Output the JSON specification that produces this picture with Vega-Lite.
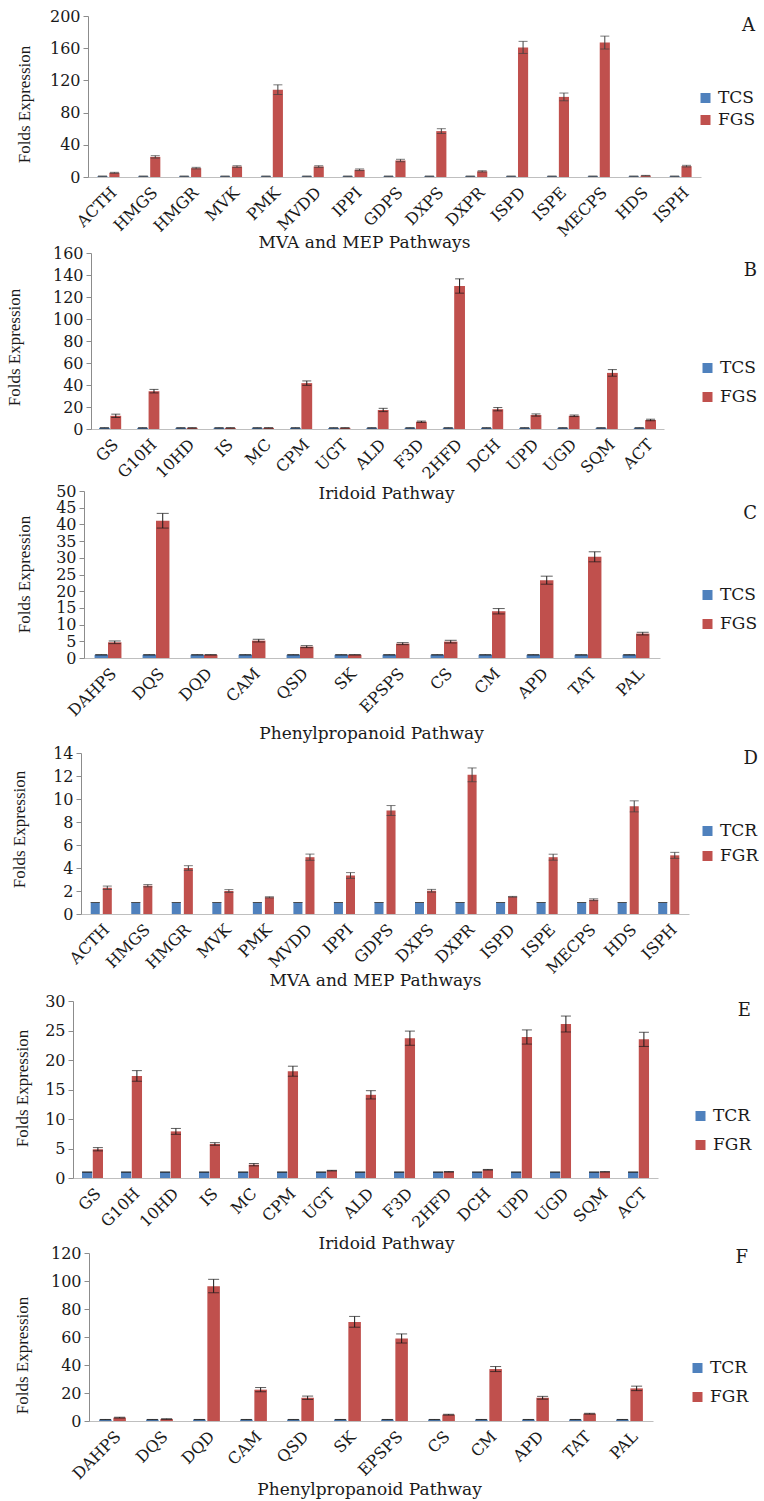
{
  "$schema": "https://vega.github.io/schema/vega-lite/v6.json",
  "background": "white",
  "padding": {"left": 5, "top": 8, "right": 0, "bottom": 5},
  "bounds": "flush",
  "align": "each",
  "spacing": 0,
  "datasets": {
    "a": [
      {"gene":"ACTH","grp":"TCS","v":1,"lo":0.9,"hi":1.1},{"gene":"ACTH","grp":"FGS","v":5.2,"lo":4.6,"hi":5.8},
      {"gene":"HMGS","grp":"TCS","v":1,"lo":0.9,"hi":1.1},{"gene":"HMGS","grp":"FGS","v":25,"lo":23.5,"hi":26.5},
      {"gene":"HMGR","grp":"TCS","v":1,"lo":0.9,"hi":1.1},{"gene":"HMGR","grp":"FGS","v":11,"lo":10,"hi":12},
      {"gene":"MVK","grp":"TCS","v":1,"lo":0.9,"hi":1.1},{"gene":"MVK","grp":"FGS","v":13,"lo":12,"hi":14},
      {"gene":"PMK","grp":"TCS","v":1,"lo":0.9,"hi":1.1},{"gene":"PMK","grp":"FGS","v":108.5,"lo":102.5,"hi":114.5},
      {"gene":"MVDD","grp":"TCS","v":1,"lo":0.9,"hi":1.1},{"gene":"MVDD","grp":"FGS","v":13,"lo":12,"hi":14},
      {"gene":"IPPI","grp":"TCS","v":1,"lo":0.9,"hi":1.1},{"gene":"IPPI","grp":"FGS","v":9,"lo":8,"hi":10},
      {"gene":"GDPS","grp":"TCS","v":1,"lo":0.9,"hi":1.1},{"gene":"GDPS","grp":"FGS","v":20.5,"lo":19,"hi":22},
      {"gene":"DXPS","grp":"TCS","v":1,"lo":0.9,"hi":1.1},{"gene":"DXPS","grp":"FGS","v":57,"lo":54,"hi":60},
      {"gene":"DXPR","grp":"TCS","v":1,"lo":0.9,"hi":1.1},{"gene":"DXPR","grp":"FGS","v":7,"lo":6.2,"hi":7.8},
      {"gene":"ISPD","grp":"TCS","v":1,"lo":0.9,"hi":1.1},{"gene":"ISPD","grp":"FGS","v":161,"lo":153.5,"hi":168.5},
      {"gene":"ISPE","grp":"TCS","v":1,"lo":0.9,"hi":1.1},{"gene":"ISPE","grp":"FGS","v":99.5,"lo":94.7,"hi":104.3},
      {"gene":"MECPS","grp":"TCS","v":1,"lo":0.9,"hi":1.1},{"gene":"MECPS","grp":"FGS","v":167,"lo":159,"hi":175},
      {"gene":"HDS","grp":"TCS","v":1,"lo":0.9,"hi":1.1},{"gene":"HDS","grp":"FGS","v":1.7,"lo":1.4,"hi":2.0},
      {"gene":"ISPH","grp":"TCS","v":1,"lo":0.9,"hi":1.1},{"gene":"ISPH","grp":"FGS","v":13.5,"lo":12.5,"hi":14.5}
    ],
    "b": [
      {"gene":"GS","grp":"TCS","v":1,"lo":0.9,"hi":1.1},{"gene":"GS","grp":"FGS","v":12,"lo":10.5,"hi":13.5},
      {"gene":"G10H","grp":"TCS","v":1,"lo":0.9,"hi":1.1},{"gene":"G10H","grp":"FGS","v":34.4,"lo":32.8,"hi":36},
      {"gene":"10HD","grp":"TCS","v":1,"lo":0.9,"hi":1.1},{"gene":"10HD","grp":"FGS","v":1,"lo":0.9,"hi":1.1},
      {"gene":"IS","grp":"TCS","v":1,"lo":0.9,"hi":1.1},{"gene":"IS","grp":"FGS","v":1,"lo":0.9,"hi":1.1},
      {"gene":"MC","grp":"TCS","v":1,"lo":0.9,"hi":1.1},{"gene":"MC","grp":"FGS","v":1,"lo":0.9,"hi":1.1},
      {"gene":"CPM","grp":"TCS","v":1,"lo":0.9,"hi":1.1},{"gene":"CPM","grp":"FGS","v":41.7,"lo":39.7,"hi":43.7},
      {"gene":"UGT","grp":"TCS","v":1,"lo":0.9,"hi":1.1},{"gene":"UGT","grp":"FGS","v":1,"lo":0.9,"hi":1.1},
      {"gene":"ALD","grp":"TCS","v":1,"lo":0.9,"hi":1.1},{"gene":"ALD","grp":"FGS","v":17.3,"lo":15.8,"hi":18.8},
      {"gene":"F3D","grp":"TCS","v":1,"lo":0.9,"hi":1.1},{"gene":"F3D","grp":"FGS","v":6.6,"lo":6,"hi":7.2},
      {"gene":"2HFD","grp":"TCS","v":1,"lo":0.9,"hi":1.1},{"gene":"2HFD","grp":"FGS","v":130,"lo":123.5,"hi":136.5},
      {"gene":"DCH","grp":"TCS","v":1,"lo":0.9,"hi":1.1},{"gene":"DCH","grp":"FGS","v":18,"lo":16.5,"hi":19.5},
      {"gene":"UPD","grp":"TCS","v":1,"lo":0.9,"hi":1.1},{"gene":"UPD","grp":"FGS","v":12.7,"lo":11.7,"hi":13.7},
      {"gene":"UGD","grp":"TCS","v":1,"lo":0.9,"hi":1.1},{"gene":"UGD","grp":"FGS","v":12,"lo":11.3,"hi":12.7},
      {"gene":"SQM","grp":"TCS","v":1,"lo":0.9,"hi":1.1},{"gene":"SQM","grp":"FGS","v":51,"lo":48,"hi":54},
      {"gene":"ACT","grp":"TCS","v":1,"lo":0.9,"hi":1.1},{"gene":"ACT","grp":"FGS","v":8.2,"lo":7.5,"hi":8.9}
    ],
    "c": [
      {"gene":"DAHPS","grp":"TCS","v":0.95,"lo":0.9,"hi":1.0},{"gene":"DAHPS","grp":"FGS","v":4.7,"lo":4.3,"hi":5.1},
      {"gene":"DQS","grp":"TCS","v":0.95,"lo":0.9,"hi":1.0},{"gene":"DQS","grp":"FGS","v":41.1,"lo":38.9,"hi":43.3},
      {"gene":"DQD","grp":"TCS","v":0.95,"lo":0.9,"hi":1.0},{"gene":"DQD","grp":"FGS","v":0.95,"lo":0.9,"hi":1.0},
      {"gene":"CAM","grp":"TCS","v":0.95,"lo":0.9,"hi":1.0},{"gene":"CAM","grp":"FGS","v":5.2,"lo":4.8,"hi":5.6},
      {"gene":"QSD","grp":"TCS","v":0.95,"lo":0.9,"hi":1.0},{"gene":"QSD","grp":"FGS","v":3.4,"lo":3.1,"hi":3.7},
      {"gene":"SK","grp":"TCS","v":0.95,"lo":0.9,"hi":1.0},{"gene":"SK","grp":"FGS","v":0.95,"lo":0.9,"hi":1.0},
      {"gene":"EPSPS","grp":"TCS","v":0.95,"lo":0.9,"hi":1.0},{"gene":"EPSPS","grp":"FGS","v":4.3,"lo":4.0,"hi":4.6},
      {"gene":"CS","grp":"TCS","v":0.95,"lo":0.9,"hi":1.0},{"gene":"CS","grp":"FGS","v":4.9,"lo":4.5,"hi":5.3},
      {"gene":"CM","grp":"TCS","v":0.95,"lo":0.9,"hi":1.0},{"gene":"CM","grp":"FGS","v":14,"lo":13.2,"hi":14.8},
      {"gene":"APD","grp":"TCS","v":0.95,"lo":0.9,"hi":1.0},{"gene":"APD","grp":"FGS","v":23.3,"lo":22.1,"hi":24.5},
      {"gene":"TAT","grp":"TCS","v":0.95,"lo":0.9,"hi":1.0},{"gene":"TAT","grp":"FGS","v":30.3,"lo":28.8,"hi":31.8},
      {"gene":"PAL","grp":"TCS","v":0.95,"lo":0.9,"hi":1.0},{"gene":"PAL","grp":"FGS","v":7.3,"lo":6.9,"hi":7.7}
    ],
    "d": [
      {"gene":"ACTH","grp":"TCR","v":1,"lo":1,"hi":1},{"gene":"ACTH","grp":"FGR","v":2.28,"lo":2.13,"hi":2.43},
      {"gene":"HMGS","grp":"TCR","v":1,"lo":1,"hi":1},{"gene":"HMGS","grp":"FGR","v":2.46,"lo":2.36,"hi":2.56},
      {"gene":"HMGR","grp":"TCR","v":1,"lo":1,"hi":1},{"gene":"HMGR","grp":"FGR","v":4.0,"lo":3.8,"hi":4.2},
      {"gene":"MVK","grp":"TCR","v":1,"lo":1,"hi":1},{"gene":"MVK","grp":"FGR","v":2.0,"lo":1.88,"hi":2.12},
      {"gene":"PMK","grp":"TCR","v":1,"lo":1,"hi":1},{"gene":"PMK","grp":"FGR","v":1.45,"lo":1.4,"hi":1.5},
      {"gene":"MVDD","grp":"TCR","v":1,"lo":1,"hi":1},{"gene":"MVDD","grp":"FGR","v":4.94,"lo":4.67,"hi":5.21},
      {"gene":"IPPI","grp":"TCR","v":1,"lo":1,"hi":1},{"gene":"IPPI","grp":"FGR","v":3.35,"lo":3.1,"hi":3.6},
      {"gene":"GDPS","grp":"TCR","v":1,"lo":1,"hi":1},{"gene":"GDPS","grp":"FGR","v":9.0,"lo":8.57,"hi":9.43},
      {"gene":"DXPS","grp":"TCR","v":1,"lo":1,"hi":1},{"gene":"DXPS","grp":"FGR","v":2.02,"lo":1.9,"hi":2.14},
      {"gene":"DXPR","grp":"TCR","v":1,"lo":1,"hi":1},{"gene":"DXPR","grp":"FGR","v":12.1,"lo":11.5,"hi":12.7},
      {"gene":"ISPD","grp":"TCR","v":1,"lo":1,"hi":1},{"gene":"ISPD","grp":"FGR","v":1.5,"lo":1.47,"hi":1.53},
      {"gene":"ISPE","grp":"TCR","v":1,"lo":1,"hi":1},{"gene":"ISPE","grp":"FGR","v":4.94,"lo":4.68,"hi":5.2},
      {"gene":"MECPS","grp":"TCR","v":1,"lo":1,"hi":1},{"gene":"MECPS","grp":"FGR","v":1.24,"lo":1.16,"hi":1.32},
      {"gene":"HDS","grp":"TCR","v":1,"lo":1,"hi":1},{"gene":"HDS","grp":"FGR","v":9.36,"lo":8.88,"hi":9.84},
      {"gene":"ISPH","grp":"TCR","v":1,"lo":1,"hi":1},{"gene":"ISPH","grp":"FGR","v":5.1,"lo":4.84,"hi":5.36}
    ],
    "e": [
      {"gene":"GS","grp":"TCR","v":1,"lo":1,"hi":1},{"gene":"GS","grp":"FGR","v":4.87,"lo":4.6,"hi":5.15},
      {"gene":"G10H","grp":"TCR","v":1,"lo":1,"hi":1},{"gene":"G10H","grp":"FGR","v":17.3,"lo":16.4,"hi":18.2},
      {"gene":"10HD","grp":"TCR","v":1,"lo":1,"hi":1},{"gene":"10HD","grp":"FGR","v":7.9,"lo":7.4,"hi":8.4},
      {"gene":"IS","grp":"TCR","v":1,"lo":1,"hi":1},{"gene":"IS","grp":"FGR","v":5.77,"lo":5.55,"hi":5.99},
      {"gene":"MC","grp":"TCR","v":1,"lo":1,"hi":1},{"gene":"MC","grp":"FGR","v":2.26,"lo":2.06,"hi":2.46},
      {"gene":"CPM","grp":"TCR","v":1,"lo":1,"hi":1},{"gene":"CPM","grp":"FGR","v":18.1,"lo":17.25,"hi":18.95},
      {"gene":"UGT","grp":"TCR","v":1,"lo":1,"hi":1},{"gene":"UGT","grp":"FGR","v":1.25,"lo":1.2,"hi":1.3},
      {"gene":"ALD","grp":"TCR","v":1,"lo":1,"hi":1},{"gene":"ALD","grp":"FGR","v":14.1,"lo":13.4,"hi":14.8},
      {"gene":"F3D","grp":"TCR","v":1,"lo":1,"hi":1},{"gene":"F3D","grp":"FGR","v":23.7,"lo":22.5,"hi":24.9},
      {"gene":"2HFD","grp":"TCR","v":1,"lo":1,"hi":1},{"gene":"2HFD","grp":"FGR","v":1.05,"lo":1.0,"hi":1.1},
      {"gene":"DCH","grp":"TCR","v":1,"lo":1,"hi":1},{"gene":"DCH","grp":"FGR","v":1.4,"lo":1.35,"hi":1.45},
      {"gene":"UPD","grp":"TCR","v":1,"lo":1,"hi":1},{"gene":"UPD","grp":"FGR","v":23.9,"lo":22.7,"hi":25.1},
      {"gene":"UGD","grp":"TCR","v":1,"lo":1,"hi":1},{"gene":"UGD","grp":"FGR","v":26.1,"lo":24.75,"hi":27.45},
      {"gene":"SQM","grp":"TCR","v":1,"lo":1,"hi":1},{"gene":"SQM","grp":"FGR","v":1.05,"lo":1.02,"hi":1.08},
      {"gene":"ACT","grp":"TCR","v":1,"lo":1,"hi":1},{"gene":"ACT","grp":"FGR","v":23.5,"lo":22.3,"hi":24.7}
    ],
    "f": [
      {"gene":"DAHPS","grp":"TCR","v":1,"lo":0.9,"hi":1.1},{"gene":"DAHPS","grp":"FGR","v":2.4,"lo":2.1,"hi":2.7},
      {"gene":"DQS","grp":"TCR","v":1,"lo":0.9,"hi":1.1},{"gene":"DQS","grp":"FGR","v":1.4,"lo":1.2,"hi":1.6},
      {"gene":"DQD","grp":"TCR","v":1,"lo":0.9,"hi":1.1},{"gene":"DQD","grp":"FGR","v":96.2,"lo":91.6,"hi":101.2},
      {"gene":"CAM","grp":"TCR","v":1,"lo":0.9,"hi":1.1},{"gene":"CAM","grp":"FGR","v":22.4,"lo":20.9,"hi":23.9},
      {"gene":"QSD","grp":"TCR","v":1,"lo":0.9,"hi":1.1},{"gene":"QSD","grp":"FGR","v":16.6,"lo":15.4,"hi":17.8},
      {"gene":"SK","grp":"TCR","v":1,"lo":0.9,"hi":1.1},{"gene":"SK","grp":"FGR","v":70.8,"lo":67,"hi":74.7},
      {"gene":"EPSPS","grp":"TCR","v":1,"lo":0.9,"hi":1.1},{"gene":"EPSPS","grp":"FGR","v":58.9,"lo":55.7,"hi":62.2},
      {"gene":"CS","grp":"TCR","v":1,"lo":0.9,"hi":1.1},{"gene":"CS","grp":"FGR","v":4.5,"lo":4.2,"hi":4.8},
      {"gene":"CM","grp":"TCR","v":1,"lo":0.9,"hi":1.1},{"gene":"CM","grp":"FGR","v":37.1,"lo":35.3,"hi":38.9},
      {"gene":"APD","grp":"TCR","v":1,"lo":0.9,"hi":1.1},{"gene":"APD","grp":"FGR","v":16.6,"lo":15.6,"hi":17.6},
      {"gene":"TAT","grp":"TCR","v":1,"lo":0.9,"hi":1.1},{"gene":"TAT","grp":"FGR","v":5.2,"lo":4.9,"hi":5.5},
      {"gene":"PAL","grp":"TCR","v":1,"lo":0.9,"hi":1.1},{"gene":"PAL","grp":"FGR","v":23.3,"lo":21.7,"hi":24.9}
    ]
  },
  "config": {
    "view": {"stroke": null},
    "axis": {"grid": false, "domainColor": "#8c8c8c", "tickColor": "#8c8c8c", "labelColor": "#1a1a1a", "titleColor": "#1a1a1a", "labelFont": "DejaVu Serif", "labelFontSize": 16, "titleFontWeight": "normal", "labelOverlap": false},
    "axisX": {"labelAngle": -45, "ticks": false, "labelPadding": 7, "labelFontSize": 16, "titleFont": "DejaVu Serif", "titleFontSize": 17, "titleBaseline": "middle", "titleAlign": "center", "domainColor": "#bfbfbf"},
    "axisY": {"tickSize": 5, "labelPadding": 3, "titleFont": "Liberation Serif", "titleFontSize": 17, "titleAngle": 270, "titleBaseline": "middle", "titleAlign": "center"},
    "legend": {"symbolType": "square", "symbolSize": 100, "symbolStrokeWidth": 0, "labelFont": "DejaVu Serif", "labelFontSize": 17, "labelColor": "#1a1a1a", "labelOffset": 4, "titleFont": "DejaVu Serif", "titleFontSize": 18, "titleFontWeight": "normal", "titleColor": "#1a1a1a", "titleAnchor": "end", "orient": "none"}
  },
  "resolve": {"scale": {"x": "independent", "y": "independent", "color": "independent", "xOffset": "independent"}, "axis": {"x": "independent", "y": "independent"}, "legend": {"color": "independent"}},
  "vconcat": [
    {
      "width": 628, "height": 161,
      "data": {"name": "a"},
      "encoding": {
        "x": {"field": "gene", "type": "nominal", "sort": null, "scale": {"range": [15, 628], "paddingInner": 0.46, "paddingOuter": 0.23}, "axis": {"title": "MVA and MEP Pathways", "titleX": 291, "titleY": 65, "labelOverlap": false}},
        "xOffset": {"field": "grp", "type": "nominal", "scale": {"domain": ["TCS", "FGS"], "paddingInner": 0.15}}
      },
      "layer": [
        {"mark": {"type": "bar"}, "encoding": {
          "y": {"field": "v", "type": "quantitative", "title": "Folds Expression", "scale": {"domain": [0, 200], "range": [161, 0], "nice": false}, "axis": {"values": [0, 40, 80, 120, 160, 200], "labelOverlap": false, "offset": -15, "titleX": -63.5, "titleY": 88}},
          "color": {"field": "grp", "type": "nominal", "scale": {"domain": ["TCS", "FGS"], "range": ["#4F81BD", "#C0504D"]}, "legend": {"title": "A", "labelFont": "DejaVu Serif", "legendX": 624, "legendY": 0.5, "titlePadding": 55, "rowPadding": 4}}}},
        {"mark": {"type": "rule", "color": "#404040"}, "encoding": {"y": {"field": "lo", "type": "quantitative", "title": "Folds Expression", "axis": {"values": [0, 40, 80, 120, 160, 200], "labelOverlap": false, "offset": -15, "titleX": -63.5, "titleY": 88}}, "y2": {"field": "hi"}}},
        {"mark": {"type": "tick", "color": "#404040", "thickness": 1, "size": 9}, "encoding": {"y": {"field": "lo", "type": "quantitative", "title": "Folds Expression", "axis": {"values": [0, 40, 80, 120, 160, 200], "labelOverlap": false, "offset": -15, "titleX": -63.5, "titleY": 88}}}},
        {"mark": {"type": "tick", "color": "#404040", "thickness": 1, "size": 9}, "encoding": {"y": {"field": "hi", "type": "quantitative", "title": "Folds Expression", "axis": {"values": [0, 40, 80, 120, 160, 200], "labelOverlap": false, "offset": -15, "titleX": -63.5, "titleY": 88}}}}
      ]
    },
    {
      "width": 591, "height": 252,
      "data": {"name": "b"},
      "encoding": {
        "x": {"field": "gene", "type": "nominal", "sort": null, "scale": {"range": [18, 591], "paddingInner": 0.42, "paddingOuter": 0.21}, "axis": {"title": "Iridoid Pathway", "titleX": 313, "titleY": 64, "labelOverlap": false}},
        "xOffset": {"field": "grp", "type": "nominal", "scale": {"domain": ["TCS", "FGS"], "paddingInner": 0.05}}
      },
      "layer": [
        {"mark": {"type": "bar"}, "encoding": {
          "y": {"field": "v", "type": "quantitative", "title": "Folds Expression", "scale": {"domain": [0, 160], "range": [252, 76], "nice": false}, "axis": {"values": [0, 20, 40, 60, 80, 100, 120, 140, 160], "labelOverlap": false, "offset": -18, "titleX": -77, "titleY": 170}},
          "color": {"field": "grp", "type": "nominal", "scale": {"domain": ["TCS", "FGS"], "range": ["#4F81BD", "#C0504D"]}, "legend": {"title": "B", "labelFont": "DejaVu Serif", "legendX": 626, "legendY": 84.5, "titlePadding": 80, "rowPadding": 11}}}},
        {"mark": {"type": "rule", "color": "#1a1a1a"}, "encoding": {"y": {"field": "lo", "type": "quantitative", "title": "Folds Expression", "axis": {"values": [0, 20, 40, 60, 80, 100, 120, 140, 160], "labelOverlap": false, "offset": -18, "titleX": -77, "titleY": 170}}, "y2": {"field": "hi"}}},
        {"mark": {"type": "tick", "color": "#1a1a1a", "thickness": 1, "size": 9}, "encoding": {"y": {"field": "lo", "type": "quantitative", "title": "Folds Expression", "axis": {"values": [0, 20, 40, 60, 80, 100, 120, 140, 160], "labelOverlap": false, "offset": -18, "titleX": -77, "titleY": 170}}}},
        {"mark": {"type": "tick", "color": "#1a1a1a", "thickness": 1, "size": 9}, "encoding": {"y": {"field": "hi", "type": "quantitative", "title": "Folds Expression", "axis": {"values": [0, 20, 40, 60, 80, 100, 120, 140, 160], "labelOverlap": false, "offset": -18, "titleX": -77, "titleY": 170}}}}
      ]
    },
    {
      "width": 587, "height": 229,
      "data": {"name": "c"},
      "encoding": {
        "x": {"field": "gene", "type": "nominal", "sort": null, "scale": {"range": [11, 587], "paddingInner": 0.44, "paddingOuter": 0.22}, "axis": {"title": "Phenylpropanoid Pathway", "titleX": 298, "titleY": 75, "labelOverlap": false}},
        "xOffset": {"field": "grp", "type": "nominal", "scale": {"domain": ["TCS", "FGS"], "paddingInner": 0}}
      },
      "layer": [
        {"mark": {"type": "bar"}, "encoding": {
          "y": {"field": "v", "type": "quantitative", "title": "Folds Expression", "scale": {"domain": [0, 50], "range": [229, 62], "nice": false}, "axis": {"values": [0, 5, 10, 15, 20, 25, 30, 35, 40, 45, 50], "labelOverlap": false, "offset": -11, "titleX": -60, "titleY": 145}},
          "color": {"field": "grp", "type": "nominal", "scale": {"domain": ["TCS", "FGS"], "range": ["#4F81BD", "#C0504D"]}, "legend": {"title": "C", "labelFont": "DejaVu Serif", "legendX": 626, "legendY": 75.5, "titlePadding": 64, "rowPadding": 11}}}},
        {"mark": {"type": "rule", "color": "#1a1a1a"}, "encoding": {"y": {"field": "lo", "type": "quantitative", "title": "Folds Expression", "axis": {"values": [0, 5, 10, 15, 20, 25, 30, 35, 40, 45, 50], "labelOverlap": false, "offset": -11, "titleX": -60, "titleY": 145}}, "y2": {"field": "hi"}}},
        {"mark": {"type": "tick", "color": "#1a1a1a", "thickness": 1, "size": 12}, "encoding": {"y": {"field": "lo", "type": "quantitative", "title": "Folds Expression", "axis": {"values": [0, 5, 10, 15, 20, 25, 30, 35, 40, 45, 50], "labelOverlap": false, "offset": -11, "titleX": -60, "titleY": 145}}}},
        {"mark": {"type": "tick", "color": "#1a1a1a", "thickness": 1, "size": 12}, "encoding": {"y": {"field": "hi", "type": "quantitative", "title": "Folds Expression", "axis": {"values": [0, 5, 10, 15, 20, 25, 30, 35, 40, 45, 50], "labelOverlap": false, "offset": -11, "titleX": -60, "titleY": 145}}}}
      ]
    },
    {
      "width": 616, "height": 256,
      "data": {"name": "d"},
      "encoding": {
        "x": {"field": "gene", "type": "nominal", "sort": null, "scale": {"range": [8, 616], "paddingInner": 0.48, "paddingOuter": 0.24}, "axis": {"title": "MVA and MEP Pathways", "titleX": 302, "titleY": 66, "labelOverlap": false}},
        "xOffset": {"field": "grp", "type": "nominal", "scale": {"domain": ["TCR", "FGR"], "paddingInner": 0.25}}
      },
      "layer": [
        {"mark": {"type": "bar"}, "encoding": {
          "y": {"field": "v", "type": "quantitative", "title": "Folds Expression", "scale": {"domain": [0, 14], "range": [256, 95], "nice": false}, "axis": {"values": [0, 2, 4, 6, 8, 10, 12, 14], "labelOverlap": false, "offset": -8, "titleX": -62, "titleY": 171}},
          "color": {"field": "grp", "type": "nominal", "scale": {"domain": ["TCR", "FGR"], "range": ["#4F81BD", "#C0504D"]}, "legend": {"title": "D", "labelFont": "DejaVu Serif", "legendX": 626, "legendY": 91.5, "titlePadding": 55, "rowPadding": 7}}}},
        {"mark": {"type": "rule", "color": "#404040"}, "encoding": {"y": {"field": "lo", "type": "quantitative", "title": "Folds Expression", "axis": {"values": [0, 2, 4, 6, 8, 10, 12, 14], "labelOverlap": false, "offset": -8, "titleX": -62, "titleY": 171}}, "y2": {"field": "hi"}}},
        {"mark": {"type": "tick", "color": "#404040", "thickness": 1, "size": 9}, "encoding": {"y": {"field": "lo", "type": "quantitative", "title": "Folds Expression", "axis": {"values": [0, 2, 4, 6, 8, 10, 12, 14], "labelOverlap": false, "offset": -8, "titleX": -62, "titleY": 171}}}},
        {"mark": {"type": "tick", "color": "#404040", "thickness": 1, "size": 9}, "encoding": {"y": {"field": "hi", "type": "quantitative", "title": "Folds Expression", "axis": {"values": [0, 2, 4, 6, 8, 10, 12, 14], "labelOverlap": false, "offset": -8, "titleX": -62, "titleY": 171}}}}
      ]
    },
    {
      "width": 585, "height": 264,
      "data": {"name": "e"},
      "encoding": {
        "x": {"field": "gene", "type": "nominal", "sort": null, "scale": {"range": [0, 585], "paddingInner": 0.46, "paddingOuter": 0.23}, "axis": {"title": "Iridoid Pathway", "titleX": 313, "titleY": 65, "labelOverlap": false}},
        "xOffset": {"field": "grp", "type": "nominal", "scale": {"domain": ["TCR", "FGR"], "paddingInner": 0.05}}
      },
      "layer": [
        {"mark": {"type": "bar"}, "encoding": {
          "y": {"field": "v", "type": "quantitative", "title": "Folds Expression", "scale": {"domain": [0, 30], "range": [264, 87], "nice": false}, "axis": {"values": [0, 5, 10, 15, 20, 25, 30], "labelOverlap": false, "offset": 0, "titleX": -51, "titleY": 174}},
          "color": {"field": "grp", "type": "nominal", "scale": {"domain": ["TCR", "FGR"], "range": ["#4F81BD", "#C0504D"]}, "legend": {"title": "E", "labelFont": "DejaVu Serif", "legendX": 619, "legendY": 87.5, "titlePadding": 88, "rowPadding": 11}}}},
        {"mark": {"type": "rule", "color": "#1a1a1a"}, "encoding": {"y": {"field": "lo", "type": "quantitative", "title": "Folds Expression", "axis": {"values": [0, 5, 10, 15, 20, 25, 30], "labelOverlap": false, "offset": 0, "titleX": -51, "titleY": 174}}, "y2": {"field": "hi"}}},
        {"mark": {"type": "tick", "color": "#1a1a1a", "thickness": 1, "size": 10}, "encoding": {"y": {"field": "lo", "type": "quantitative", "title": "Folds Expression", "axis": {"values": [0, 5, 10, 15, 20, 25, 30], "labelOverlap": false, "offset": 0, "titleX": -51, "titleY": 174}}}},
        {"mark": {"type": "tick", "color": "#1a1a1a", "thickness": 1, "size": 10}, "encoding": {"y": {"field": "hi", "type": "quantitative", "title": "Folds Expression", "axis": {"values": [0, 5, 10, 15, 20, 25, 30], "labelOverlap": false, "offset": 0, "titleX": -51, "titleY": 174}}}}
      ]
    },
    {
      "width": 580, "height": 243,
      "data": {"name": "f"},
      "encoding": {
        "x": {"field": "gene", "type": "nominal", "sort": null, "scale": {"range": [16, 580], "paddingInner": 0.43, "paddingOuter": 0.215}, "axis": {"title": "Phenylpropanoid Pathway", "titleX": 296, "titleY": 68, "labelOverlap": false}},
        "xOffset": {"field": "grp", "type": "nominal", "scale": {"domain": ["TCR", "FGR"], "paddingInner": 0.12}}
      },
      "layer": [
        {"mark": {"type": "bar"}, "encoding": {
          "y": {"field": "v", "type": "quantitative", "title": "Folds Expression", "scale": {"domain": [0, 120], "range": [243, 75], "nice": false}, "axis": {"values": [0, 20, 40, 60, 80, 100, 120], "labelOverlap": false, "offset": -16, "titleX": -67, "titleY": 177}},
          "color": {"field": "grp", "type": "nominal", "scale": {"domain": ["TCR", "FGR"], "range": ["#4F81BD", "#C0504D"]}, "legend": {"title": "F", "labelFont": "DejaVu Serif", "legendX": 616, "legendY": 70.5, "titlePadding": 93, "rowPadding": 11}}}},
        {"mark": {"type": "rule", "color": "#1a1a1a"}, "encoding": {"y": {"field": "lo", "type": "quantitative", "title": "Folds Expression", "axis": {"values": [0, 20, 40, 60, 80, 100, 120], "labelOverlap": false, "offset": -16, "titleX": -67, "titleY": 177}}, "y2": {"field": "hi"}}},
        {"mark": {"type": "tick", "color": "#1a1a1a", "thickness": 1, "size": 11}, "encoding": {"y": {"field": "lo", "type": "quantitative", "title": "Folds Expression", "axis": {"values": [0, 20, 40, 60, 80, 100, 120], "labelOverlap": false, "offset": -16, "titleX": -67, "titleY": 177}}}},
        {"mark": {"type": "tick", "color": "#1a1a1a", "thickness": 1, "size": 11}, "encoding": {"y": {"field": "hi", "type": "quantitative", "title": "Folds Expression", "axis": {"values": [0, 20, 40, 60, 80, 100, 120], "labelOverlap": false, "offset": -16, "titleX": -67, "titleY": 177}}}}
      ]
    }
  ]
}
